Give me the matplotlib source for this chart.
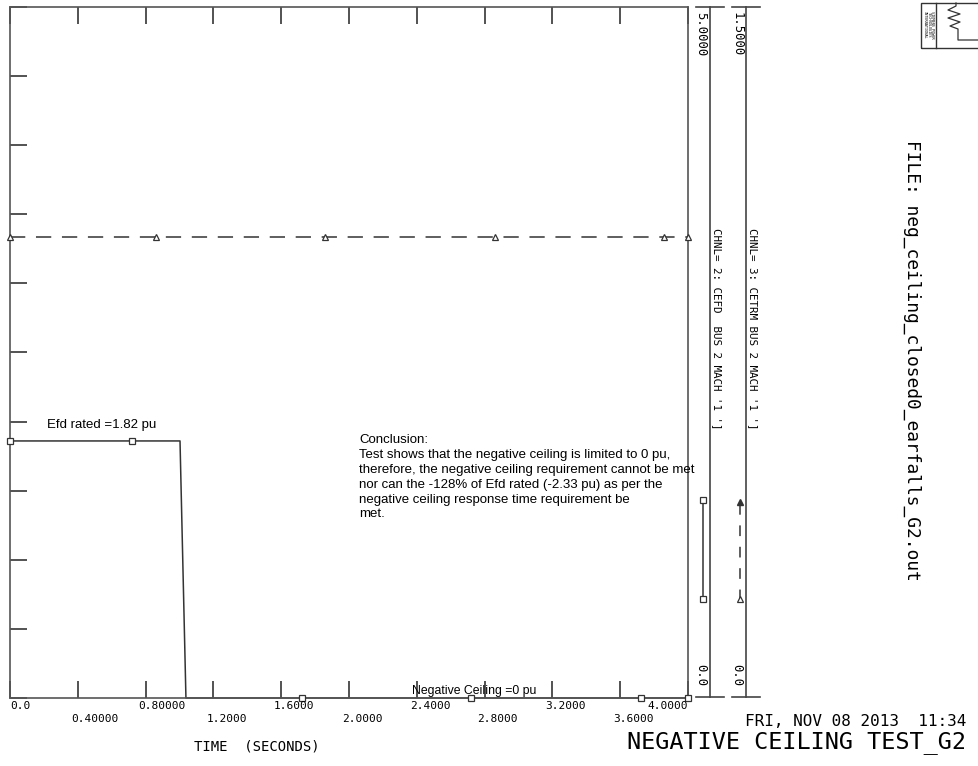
import numpy as np
import matplotlib
matplotlib.use('Agg')
import matplotlib.pyplot as plt
from matplotlib.lines import Line2D
from matplotlib.patches import Rectangle

W, H = 979, 766

# channel 2: CEFD (field voltage, pu), left scale 0..5
efd_t = [0.0, 1.003, 1.038, 4.0]
efd_v = [1.86, 1.86, 0.0, 0.0]
efd_mark_t = [0.0, 0.72, 1.72, 2.72, 3.72, 4.0]

# channel 3: CETRM (terminal voltage, pu), scale 0..1.5
etrm_t = [0.0, 4.0]
etrm_v = [1.0, 1.0]
etrm_mark_t = [0.0, 0.86, 1.86, 2.86, 3.86, 4.0]

x_ticks = [0.0, 0.4, 0.8, 1.2, 1.6, 2.0, 2.4, 2.8, 3.2, 3.6, 4.0]
x_labels = ['0.0', '0.40000', '0.80000', '1.2000', '1.6000', '2.0000',
            '2.4000', '2.8000', '3.2000', '3.6000', '4.0000']

conclusion = ("Conclusion:\n"
              "Test shows that the negative ceiling is limited to 0 pu,\n"
              "therefore, the negative ceiling requirement cannot be met\n"
              "nor can the -128% of Efd rated (-2.33 pu) as per the\n"
              "negative ceiling response time requirement be\n"
              "met.")

LC = '#333333'
MONO = 'DejaVu Sans Mono'
SANS = 'Liberation Sans'


def fx(x):
    return x / W


def fy(y):
    return 1 - y / H


fig = plt.figure(figsize=(W / 100, H / 100), dpi=100)
ax = fig.add_axes([fx(10), fy(698), (688 - 10) / W, (698 - 7) / H])
ax.set_xlim(0, 4.0)
ax.set_ylim(0, 5.0)
for s in ax.spines.values():
    s.set_color('#555555')
    s.set_linewidth(1.2)
ax.set_xticks(x_ticks)
ax.set_yticks(np.arange(0, 5.01, 0.5))
ax.tick_params(axis='both', direction='in', length=12.5, width=1.3, color='#444444',
               top=True, right=True, labelbottom=False, labelleft=False)

# channel 2 line
ax.plot(efd_t, efd_v, color=LC, lw=1.1, clip_on=False)
ax.plot(efd_mark_t, np.interp(efd_mark_t, efd_t, efd_v), ls='none', marker='s',
        ms=4.5, mfc='white', mec=LC, mew=0.9, clip_on=False, zorder=5)

# channel 3 on its own scale
ax3 = ax.twinx()
ax3.set_ylim(0, 1.5)
ax3.axis('off')
ax3.plot(etrm_t, etrm_v, color=LC, lw=1.1, dashes=(10, 7), clip_on=False)
ax3.plot(etrm_mark_t, np.interp(etrm_mark_t, etrm_t, etrm_v), ls='none', marker='^',
         ms=4.5, mfc='white', mec=LC, mew=0.9, clip_on=False, zorder=5)

# x tick labels, alternating rows
for i, (t, lab) in enumerate(zip(x_ticks, x_labels)):
    ypx = 706 if i % 2 == 0 else 719
    if i == len(x_ticks) - 1:
        fig.text(fx(688), fy(ypx), lab, ha='right', va='center', fontsize=8, family=MONO)
    else:
        xp = 10 + t / 4.0 * 678 - (0 if i == 0 else 7)
        fig.text(fx(xp), fy(ypx), lab, ha='left', va='center', fontsize=8, family=MONO)

fig.text(fx(257), fy(746), 'TIME  (SECONDS)', ha='center', va='center', fontsize=10, family=MONO)

# annotations inside the plot
ax.text(0.22, 1.975, 'Efd rated =1.82 pu', fontsize=9.5, family=SANS, va='center')
ax.text(2.37, 0.01, 'Negative Ceiling =0 pu', fontsize=8.8, family=SANS, va='bottom')
fig.text(fx(359), fy(434), conclusion, fontsize=9.5, family=SANS, va='top', ha='left',
         linespacing=1.32)

# channel columns on the right
cols = [(701, 710, 696, 724, '5.0000', "CHNL= 2: CEFD  BUS 2 MACH '1 ']"),
        (737, 746, 732, 760, '1.5000', "CHNL= 3: CETRM BUS 2 MACH '1 ']")]
for tx, lx, x0, x1, top_lab, name in cols:
    fig.add_artist(Line2D([fx(lx), fx(lx)], [fy(7), fy(697)], color='#444444', lw=1.2))
    fig.add_artist(Line2D([fx(x0), fx(x1)], [fy(7), fy(7)], color='#444444', lw=1.2))
    fig.add_artist(Line2D([fx(x0), fx(x1)], [fy(697), fy(697)], color='#444444', lw=1.2))
    fig.text(fx(tx), fy(12), top_lab, rotation=-90, ha='center', va='top', fontsize=8.8, family=MONO)
    fig.text(fx(tx), fy(686), '0.0', rotation=-90, ha='center', va='bottom', fontsize=8.8, family=MONO)
    fig.text(fx(lx + 7), fy(228), name, rotation=-90, ha='center', va='top', fontsize=7.8, family=MONO)

# legend samples
fig.add_artist(Line2D([fx(703), fx(703)], [fy(500), fy(599)], color=LC, lw=1.1,
                      marker='s', ms=4.5, mfc='white', mec=LC, mew=0.9))
fig.add_artist(Line2D([fx(740), fx(740)], [fy(504), fy(599)], color=LC, lw=1.1, dashes=(7, 7)))
fig.add_artist(Line2D([fx(740)], [fy(599)], ls='none', marker='^', ms=4.5, mfc='white', mec=LC, mew=0.9))
fig.add_artist(Line2D([fx(740)], [fy(502)], ls='none', marker='^', ms=4.5, mfc=LC, mec=LC))

# file name, date, title
fig.text(fx(912), fy(140), 'FILE: neg_ceiling_closed0_earfalls_G2.out', rotation=-90,
         ha='center', va='top', fontsize=12.9, family=MONO)
fig.text(fx(966), fy(721), 'FRI, NOV 08 2013  11:34', ha='right', va='center',
         fontsize=11.5, family=MONO)
fig.text(fx(966), fy(743), 'NEGATIVE CEILING TEST_G2', ha='right', va='center',
         fontsize=16.9, family=MONO)

# logo box
fig.add_artist(Rectangle((fx(921), fy(48)), fx(60), 45 / H, fill=False, ec='#333333', lw=1.0))
fig.add_artist(Line2D([fx(936), fx(936)], [fy(3), fy(48)], color='#333333', lw=1.0))
fig.text(fx(928.5), fy(25), 'SIEMENS POWER\nTECHNOLOGIES\nINTERNATIONAL', rotation=-90,
         ha='center', va='center', fontsize=2.6, family=MONO, linespacing=1.0)
zx = [956, 956, 948, 960, 948, 960, 950, 958, 958, 979]
zy = [3, 6, 10, 14, 18, 22, 26, 29, 40, 40]
fig.add_artist(Line2D([fx(v) for v in zx], [fy(v) for v in zy], color='#333333', lw=0.9))

fig.savefig('out.png', dpi=100, facecolor='white')
